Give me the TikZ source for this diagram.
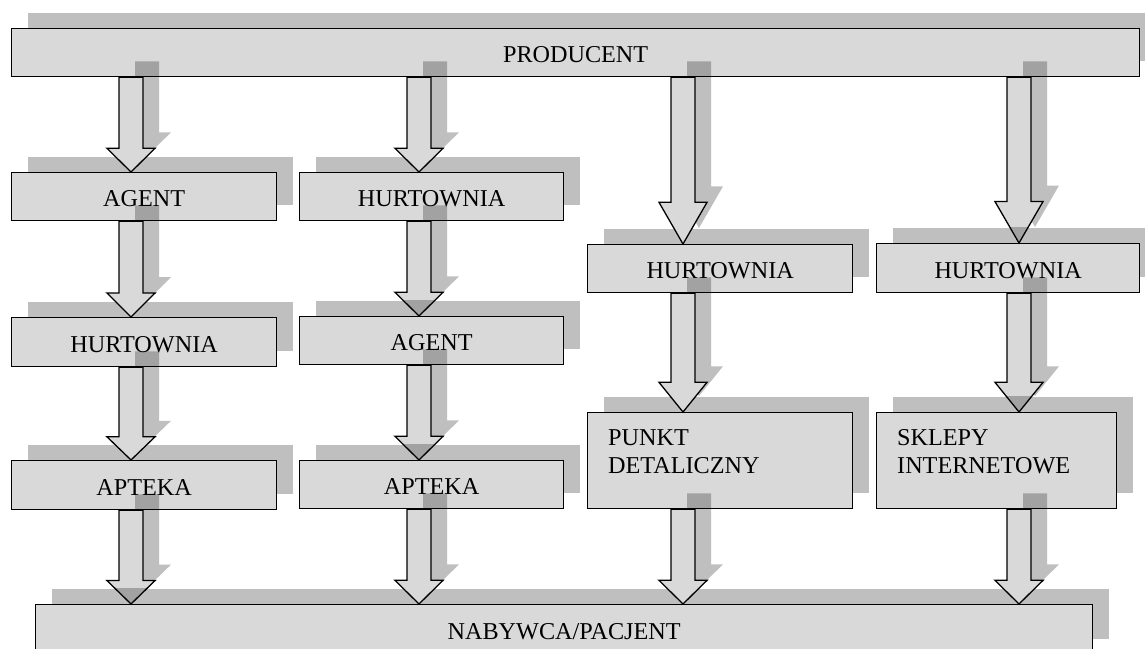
\documentclass[tikz,border=0pt]{standalone}
\usepackage{fontspec}
\setmainfont{Liberation Serif}
\usetikzlibrary{calc,shadows}
\definecolor{boxgray}{HTML}{D9D9D9}
\newcommand\lbl{\fontsize{24.2}{28}\selectfont}
\tikzset{
  chan/.style={draw=black, line width=1.3pt, fill=boxgray, anchor=north west,
    inner sep=0pt, text height=20pt, text depth=0pt, font=\lbl,
    drop shadow={shadow xshift=16pt, shadow yshift=16pt, draw=none,
      fill=black, opacity=0.25}},
  twoline/.style={anchor=north west, inner sep=0pt, align=left, font=\lbl},
  arrowbody/.style={draw=black, line width=1.3pt, fill=boxgray, line join=miter},
  arrowshade/.style={fill=black, opacity=0.25},
}
% block arrow with its shadow: #1 column, #2 source node, #3 target node
\newcommand\flowarrow[3]{%
  \fill[arrowshade] let \p1=(#1|-#2.south), \p2=(#1|-#3.north),
      \n1={0.25*(\y1-\y2)} in
    (\x1+4pt,\y1+16pt) -- (\x1+28pt,\y1+16pt) -- (\x1+28pt,\y2+\n1+16pt)
    -- (\x1+40pt,\y2+\n1+16pt) -- (\x1+16pt,\y2+16pt)
    -- (\x1-8pt,\y2+\n1+16pt) -- (\x1+4pt,\y2+\n1+16pt) -- cycle;
  \filldraw[arrowbody] let \p1=(#1|-#2.south), \p2=(#1|-#3.north),
      \n1={0.25*(\y1-\y2)} in
    (\x1-12pt,\y1) -- (\x1+12pt,\y1) -- (\x1+12pt,\y2+\n1)
    -- (\x1+24pt,\y2+\n1) -- (\x1,\y2)
    -- (\x1-24pt,\y2+\n1) -- (\x1-12pt,\y2+\n1) -- cycle;
}
% darkened arrow head where it lies over the target's shadow
\newcommand\shadetip[3]{%
  \begin{scope}
    \clip ($(#3.north west)+(16pt,0pt)$) rectangle ($(#3.north east)+(16pt,16pt)$);
    \fill[arrowshade] let \p1=(#1|-#2.south), \p2=(#1|-#3.north),
        \n1={0.25*(\y1-\y2)} in
      (\x1+24pt,\y2+\n1) -- (\x1,\y2) -- (\x1-24pt,\y2+\n1) -- cycle;
  \end{scope}
}
\begin{document}
\begin{tikzpicture}[x=1pt, y=-1pt]
\useasboundingbox (0,0) rectangle (1145,648);

% column axes of the arrows
\coordinate (col1) at (131,0);
\coordinate (col2) at (419,0);
\coordinate (col3) at (683,0);
\coordinate (col4) at (1019,0);

% boxes
\node[chan, minimum width=1128pt, minimum height=48pt] (prod) at (11,28) {PRODUCENT};

\node[chan, minimum width=265pt, minimum height=48pt] (a1) at (11,172) {AGENT};
\node[chan, minimum width=265pt, minimum height=49pt] (h1) at (11,317) {HURTOWNIA};
\node[chan, minimum width=265pt, minimum height=49pt] (ap1) at (11,460) {APTEKA};

\node[chan, minimum width=264pt, minimum height=48pt] (h2) at (299,172) {HURTOWNIA};
\node[chan, minimum width=264pt, minimum height=48pt] (a2) at (299,316) {AGENT};
\node[chan, minimum width=264pt, minimum height=48pt] (ap2) at (299,460) {APTEKA};

\node[chan, minimum width=265pt, minimum height=48pt] (h3) at (587,244) {HURTOWNIA};
\node[chan, minimum width=265pt, minimum height=96pt] (pd) at (587,412) {};

\node[chan, minimum width=263pt, minimum height=49pt] (h4) at (876,243) {HURTOWNIA};
\node[chan, minimum width=240pt, minimum height=96pt] (si) at (876,412) {};

\node[chan, minimum width=1057pt, minimum height=50pt] (nab) at (35,604) {NABYWCA/PACJENT};

% arrows
\flowarrow{col1}{prod}{a1}
\flowarrow{col1}{a1}{h1}
\flowarrow{col1}{h1}{ap1}
\flowarrow{col1}{ap1}{nab}
\shadetip{col1}{ap1}{nab}

\flowarrow{col2}{prod}{h2}
\flowarrow{col2}{h2}{a2}
\shadetip{col2}{h2}{a2}
\flowarrow{col2}{a2}{ap2}
\shadetip{col2}{a2}{ap2}
\flowarrow{col2}{ap2}{nab}

\flowarrow{col3}{prod}{h3}
\flowarrow{col3}{h3}{pd}
\flowarrow{col3}{pd}{nab}

\flowarrow{col4}{prod}{h4}
\shadetip{col4}{prod}{h4}
\flowarrow{col4}{h4}{si}
\shadetip{col4}{h4}{si}
\flowarrow{col4}{si}{nab}

% two-line labels
\node[twoline] (pdt) at ($(pd.north west)+(21,17)$) {PUNKT\\DETALICZNY};
\node[twoline] (sit) at ($(si.north west)+(21,17)$) {SKLEPY\\INTERNETOWE};
\end{tikzpicture}
\end{document}
